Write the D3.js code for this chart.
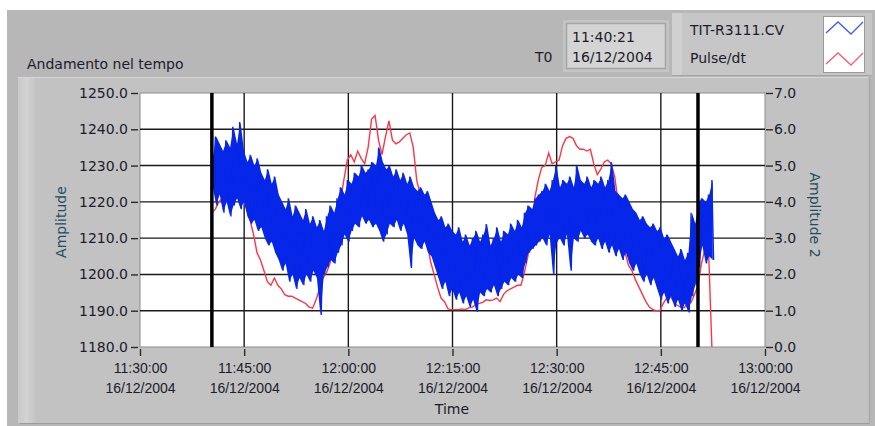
<!DOCTYPE html>
<html>
<head>
<meta charset="utf-8">
<script src="https://cdn.jsdelivr.net/npm/d3@7/dist/d3.min.js"></script>
<style>
  html, body { margin: 0; padding: 0; background: #ffffff; }
  svg { display: block; font-family: "DejaVu Sans", sans-serif; }
</style>
</head>
<body>
<svg id="chart" width="875" height="426"></svg>
<script>
// ---- data -------------------------------------------------------------
// Acquisition start (T0) and sample step of the min/max decimated record.
const t0Parts = [2004, 11, 16, 11, 40, 21];
const stepSeconds = 30;

// TIT-R3111.CV: max and min of each 30 s window (left axis, Amplitude)
const blueMax = [
  1232,1238,1236,1234,1237,1235,1240.7,1236,1242,1234,
  1231,1233,1230,1232,1228,1226,1229,1225,1227,1222,
  1220,1218,1221,1216,1219,1217,1215,1218,1214,1216,
  1213,1215,1212,1216,1219,1217,1221,1224,1222,1226,
  1225,1228,1227,1230,1228,1229,1231,1230,1235,1231,
  1229,1230,1227,1229,1226,1228,1225,1227,1224,1223,
  1224,1222,1223,1220,1217,1215,1216,1213,1214,1212,
  1211,1213,1209,1211,1208,1210,1212,1209,1211,1213.9,
  1208,1210,1213,1209,1212,1211,1214,1212,1215,1213,
  1217,1219,1218,1221,1222,1223,1225,1223,1226,1230,
  1224,1226,1225,1227,1224,1230,1226,1225,1227,1224,
  1226,1225,1227,1224,1226,1231,1223,1222,1221,1222,
  1220,1218,1217,1215,1216,1214,1213,1214,1212,1213,
  1210,1211,1209,1207,1205,1207,1204,1206,1217,1214,
  1220,1221,1220,1222,1226
];
const blueMin = [
  1224,1219,1222,1217,1220,1216,1219,1221,1218,1220,
  1216,1214,1215,1212,1213,1210,1208,1209,1206,1204,
  1201,1203,1198,1200,1196,1199,1197,1200,1198,1201,
  1199,1188.8,1200,1202,1204,1203,1206,1208,1211,1209,
  1212,1214,1213,1216,1214,1215,1213,1214,1212,1209,
  1211,1214,1213,1215,1212,1214,1211,1201.8,1210,1208,
  1207,1209,1206,1205,1202,1199,1196,1198,1194,1196,
  1193,1195,1192,1194,1191,1193,1189.7,1195,1194,1196,
  1195,1197,1194,1196,1198,1197,1199,1198,1200,1199,
  1203,1206,1207,1208,1209,1210,1208,1211,1200,1209,
  1210,1208,1211,1201,1210,1209,1212,1210,1211,1209,
  1208,1210,1207,1209,1206,1208,1205,1207,1204,1206,
  1203,1201,1203,1200,1198,1200,1197,1199,1196,1193,
  1195,1192,1194,1191,1193,1190,1192,1189.5,1194,1197,
  1202,1208,1203,1205,1204
];
// Pulse/dt sampled every 30 s (right axis, Amplitude 2)
const redPulse = [
  3.70,3.80,4.00,4.10,4.00,4.10,4.20,4.10,4.20,4.10,
  3.80,3.50,3.10,2.60,2.40,2.10,1.80,1.70,1.90,1.70,
  1.60,1.44,1.40,1.40,1.35,1.30,1.25,1.20,1.10,1.07,
  1.30,1.60,1.90,2.05,2.30,2.80,3.40,4.00,4.60,5.15,
  5.30,5.10,5.40,5.20,5.05,5.50,6.28,6.38,5.70,5.30,
  5.80,6.23,5.70,5.60,5.65,5.75,5.85,5.90,5.50,4.60,
  4.20,3.70,2.90,2.35,2.00,1.65,1.35,1.25,1.05,1.03,
  1.03,1.03,1.05,1.03,1.08,1.10,1.17,1.20,1.23,1.30,
  1.28,1.30,1.35,1.25,1.45,1.55,1.60,1.65,1.70,1.70,
  2.05,2.50,3.30,4.10,4.60,4.95,5.00,5.35,5.05,5.10,
  5.15,5.55,5.75,5.80,5.75,5.55,5.45,5.45,5.40,5.45,
  5.05,4.75,4.90,5.10,5.15,5.05,4.70,4.00,3.20,2.60,
  2.25,2.10,1.85,1.65,1.45,1.25,1.10,1.03,1.00,1.00,
  1.20,1.35,1.40,1.25,1.15,1.10,1.08,1.20,1.22,1.45,
  1.70,2.30,2.70,2.80,0.00
];

// Cursor times (minutes after T0)
const cursorOffsets = [0, 70];

// Axes
const leftTicks = [1180, 1190, 1200, 1210, 1220, 1230, 1240, 1250];
const rightTicks = [0, 1, 2, 3, 4, 5, 6, 7];
const timeTickMinutes = [0, 15, 30, 45, 60, 75, 90]; // from 11:30:00
const seriesNames = ["TIT-R3111.CV", "Pulse/dt"];
const seriesColors = ["#0626e8", "#ff3448"];

// ---- drawing ----------------------------------------------------------
const svg = d3.select("#chart");
const textColor = "#1c1c2a";

const T0 = new Date(...t0Parts);
const tStart = new Date(2004, 11, 16, 11, 30, 0);
const tEnd = new Date(2004, 11, 16, 13, 0, 0);
const addSec = (d, s) => new Date(d.getTime() + s * 1000);

const plot = { left: 140, right: 765, top: 93, bottom: 347 };

const x = d3.scaleTime().domain([tStart, tEnd]).range([plot.left, plot.right]);
const yL = d3.scaleLinear().domain([1180, 1250]).range([plot.bottom, plot.top]);
const yR = d3.scaleLinear().domain([0, 7]).range([plot.bottom, plot.top]);

// panels
svg.append("rect").attr("x", 7).attr("y", 10).attr("width", 868).attr("height", 416).attr("fill", "#b7b7b7");
const defs = svg.append("defs");
const lg = defs.append("linearGradient").attr("id", "bevel").attr("x1", 0).attr("x2", 1);
lg.append("stop").attr("offset", 0).attr("stop-color", "#c9c9c9");
lg.append("stop").attr("offset", 0.5).attr("stop-color", "#d3d3d3");
lg.append("stop").attr("offset", 1).attr("stop-color", "#c3c3c3");

svg.append("rect").attr("x", 18).attr("y", 77).attr("width", 852).attr("height", 346).attr("fill", "#c2c2c2");
svg.append("rect").attr("x", 18).attr("y", 77).attr("width", 18).attr("height", 346).attr("fill", "url(#bevel)");
svg.append("line").attr("x1", 18).attr("x2", 870).attr("y1", 77.5).attr("y2", 77.5).attr("stroke", "#d6d6d6");
svg.append("line").attr("x1", 20).attr("x2", 870).attr("y1", 423.5).attr("y2", 423.5).attr("stroke", "#9c9c9c");
svg.append("line").attr("x1", 869.5).attr("x2", 869.5).attr("y1", 77).attr("y2", 424).attr("stroke", "#a9a9a9").attr("stroke-width", 1.5);

svg.append("text").attr("x", 27).attr("y", 69).attr("font-size", 14).attr("fill", textColor)
  .text("Andamento nel tempo");

// T0 indicator
svg.append("text").attr("x", 535).attr("y", 62).attr("font-size", 14).attr("fill", textColor).text("T0");
svg.append("rect").attr("x", 563).attr("y", 20).attr("width", 106).attr("height", 52)
  .attr("fill", "#c4c4c4");
svg.append("rect").attr("x", 566.5).attr("y", 23.5).attr("width", 99).attr("height", 45)
  .attr("fill", "#d4d4d4").attr("stroke", "#a6a6a6").attr("stroke-width", 1.5);
const t0Fmt1 = d3.timeFormat("%H:%M:%S"), t0Fmt2 = d3.timeFormat("%d/%m/%Y");
svg.append("text").attr("x", 572).attr("y", 42).attr("font-size", 14).attr("fill", textColor).text(t0Fmt1(T0));
svg.append("text").attr("x", 572).attr("y", 62).attr("font-size", 14).attr("fill", textColor).text(t0Fmt2(T0));

// legend
svg.append("rect").attr("x", 672).attr("y", 13).attr("width", 200).attr("height", 63).attr("fill", "#c6c6c6");
svg.append("rect").attr("x", 672).attr("y", 13).attr("width", 10).attr("height", 63).attr("fill", "#d0d0d0");
svg.append("line").attr("x1", 672).attr("x2", 872).attr("y1", 75.5).attr("y2", 75.5).attr("stroke", "#a4a4a4");
svg.append("rect").attr("x", 823.5).attr("y", 16.5).attr("width", 41).attr("height", 56)
  .attr("fill", "#ffffff").attr("stroke", "#9a9a9a");
seriesNames.forEach((name, i) => {
  const baseY = 35 + i * 28;
  svg.append("text").attr("x", 690).attr("y", baseY).attr("font-size", 14).attr("fill", textColor).text(name);
  const zy = 22 + i * 31;
  svg.append("polyline")
    .attr("points", [[826, zy + 11], [838, zy], [851, zy + 12], [863, zy]].map(p => p.join(",")).join(" "))
    .attr("fill", "none").attr("stroke", i === 0 ? "#3a5cff" : "#ff5a6a").attr("stroke-width", 1.3);
});

// plot area
svg.append("rect").attr("x", plot.left).attr("y", plot.top)
  .attr("width", plot.right - plot.left).attr("height", plot.bottom - plot.top)
  .attr("fill", "#ffffff").attr("stroke", "#8c8c8c").attr("stroke-width", 1);

const gridG = svg.append("g").attr("stroke", "#1a1a1a").attr("stroke-width", 1.4);
leftTicks.slice(1, -1).forEach(v => {
  gridG.append("line").attr("x1", plot.left).attr("x2", plot.right)
    .attr("y1", yL(v)).attr("y2", yL(v));
});
timeTickMinutes.slice(1, -1).forEach(m => {
  const xx = x(addSec(tStart, m * 60));
  gridG.append("line").attr("x1", xx).attr("x2", xx).attr("y1", plot.top).attr("y2", plot.bottom);
});

// series
const clip = defs.append("clipPath").attr("id", "plotClip");
clip.append("rect").attr("x", plot.left).attr("y", plot.top - 1)
  .attr("width", plot.right - plot.left).attr("height", plot.bottom - plot.top + 2);

const redPts = redPulse.map((v, i) => [addSec(T0, i * stepSeconds), v]);
svg.append("path").attr("clip-path", "url(#plotClip)")
  .attr("d", d3.line().x(d => x(d[0])).y(d => yR(d[1]))(redPts))
  .attr("fill", "none").attr("stroke", seriesColors[1]).attr("stroke-width", 1.4);

// dense record: solid min/max envelope with the zigzag trace on top
const bluePts = [];
blueMax.forEach((hi, i) => {
  const t = addSec(T0, i * stepSeconds);
  bluePts.push([t, hi, "max"]);
  bluePts.push([addSec(t, stepSeconds / 2), blueMin[i], "min"]);
});
const envelope = blueMax.map((hi, i) => ({ t: addSec(T0, i * stepSeconds + stepSeconds / 4), hi, lo: blueMin[i] }));
svg.append("path").attr("clip-path", "url(#plotClip)")
  .attr("d", d3.area().x(d => x(d.t)).y0(d => yL(d.lo)).y1(d => yL(d.hi))(envelope))
  .attr("fill", seriesColors[0]);
svg.append("path").attr("clip-path", "url(#plotClip)")
  .attr("d", d3.line().x(d => x(d[0])).y(d => yL(d[1]))(bluePts))
  .attr("fill", "none").attr("stroke", seriesColors[0]).attr("stroke-width", 1.3)
  .attr("stroke-linejoin", "miter");

// cursors
cursorOffsets.forEach(m => {
  const xx = x(addSec(T0, m * 60));
  svg.append("line").attr("x1", xx).attr("x2", xx).attr("y1", plot.top).attr("y2", plot.bottom)
    .attr("stroke", "#000000").attr("stroke-width", 3.5);
});

// axes
const leftAxis = d3.axisLeft(yL).tickValues(leftTicks).tickFormat(d3.format(".1f"))
  .tickSize(7).tickPadding(3);
const gL = svg.append("g").attr("transform", `translate(${plot.left - 2},0)`).call(leftAxis);

const rightAxis = d3.axisRight(yR).tickValues(rightTicks).tickFormat(d3.format(".1f"))
  .tickSize(7).tickPadding(1);
const gR = svg.append("g").attr("transform", `translate(${plot.right + 1},0)`).call(rightAxis);

const bottomAxis = d3.axisBottom(x).tickValues(timeTickMinutes.map(m => addSec(tStart, m * 60)))
  .tickSize(7).tickFormat("");
const gB = svg.append("g").attr("transform", `translate(0,${plot.bottom + 2})`).call(bottomAxis);

[gL, gR, gB].forEach(g => {
  g.select(".domain").remove();
  g.selectAll(".tick line").attr("stroke", "#2a2a2a").attr("stroke-width", 1.4);
  g.selectAll("text").attr("font-size", 14).attr("fill", textColor).attr("font-family", "DejaVu Sans");
});

const fTime = d3.timeFormat("%H:%M:%S"), fDate = d3.timeFormat("%d/%m/%Y");
gB.selectAll(".tick").each(function (d) {
  const t = d3.select(this).append("text").attr("font-size", 14).attr("fill", textColor)
    .attr("text-anchor", "middle");
  t.append("tspan").attr("x", 0).attr("y", 24).text(fTime(d));
  t.append("tspan").attr("x", 0).attr("y", 44).text(fDate(d));
});

// axis titles
svg.append("text").attr("x", 452).attr("y", 414).attr("text-anchor", "middle")
  .attr("font-size", 14).attr("fill", textColor).text("Time");
svg.append("text").attr("transform", "translate(66,222) rotate(-90)").attr("text-anchor", "middle")
  .attr("font-size", 14).attr("fill", "#1e4f5c").text("Amplitude");
svg.append("text").attr("transform", "translate(810,215) rotate(90)").attr("text-anchor", "middle")
  .attr("font-size", 14).attr("fill", "#1e4f5c").text("Amplitude 2");
</script>
</body>
</html>
